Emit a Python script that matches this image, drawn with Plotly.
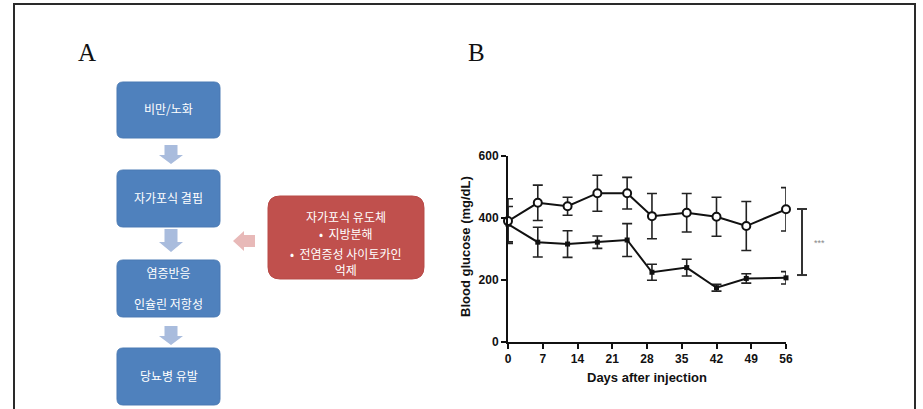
import plotly.graph_objects as go

# ---------------- data ----------------
days = [0, 6, 12, 18, 24, 29, 36, 42, 48, 56]
ctrl_glucose = [390, 449, 438, 480, 480, 406, 417, 404, 374, 428]
ctrl_sem = [72, 57, 29, 58, 51, 73, 62, 63, 79, 70]
treat_glucose = [380, 322, 316, 322, 329, 225, 240, 175, 205, 207]
treat_sem = [57, 48, 43, 20, 53, 26, 27, 11, 15, 20]
x_ticks = [0, 7, 14, 21, 28, 35, 42, 49, 56]
y_ticks = [0, 200, 400, 600]
sig_low, sig_high = 216, 429
sig_label = "***"

flow_boxes = ["비만/노화", "자가포식 결핍", "염증반응<br><br>인슐린 저항성", "당뇨병 유발"]
inducer_lines = ["자가포식 유도체", "•  지방분해", "•  전염증성 사이토카인<br>억제"]
panel_labels = ["A", "B"]

# ---------------- geometry helpers (pixels -> paper) ----------------
W, H = 923, 409


def px(x):
    return x / W


def py(y):
    return 1 - y / H


def path_from(points, close=True):
    s = ""
    for cmd, coords in points:
        s += cmd
        s += " ".join(f"{px(coords[i]):.5f},{py(coords[i+1]):.5f}" for i in range(0, len(coords), 2))
        s += " "
    if close:
        s += "Z"
    return s


def rrect(x0, y0, x1, y1, r):
    pts = [
        ("M", (x0 + r, y0)), ("L", (x1 - r, y0)), ("Q", (x1, y0, x1, y0 + r)),
        ("L", (x1, y1 - r)), ("Q", (x1, y1, x1 - r, y1)), ("L", (x0 + r, y1)),
        ("Q", (x0, y1, x0, y1 - r)), ("L", (x0, y0 + r)), ("Q", (x0, y0, x0 + r, y0)),
    ]
    return path_from(pts)


def down_arrow(cx, y0, yh, y1, sw, hw):
    pts = [("M", (cx - sw, y0)), ("L", (cx + sw, y0)), ("L", (cx + sw, yh)), ("L", (cx + hw, yh)),
           ("L", (cx, y1)), ("L", (cx - hw, yh)), ("L", (cx - sw, yh))]
    return path_from(pts)


def left_arrow(x0, xh, x1, cy, sh, hh):
    pts = [("M", (x0, cy)), ("L", (xh, cy - hh)), ("L", (xh, cy - sh)), ("L", (x1, cy - sh)),
           ("L", (x1, cy + sh)), ("L", (xh, cy + sh)), ("L", (xh, cy + hh))]
    return path_from(pts)


def note(text, x, y, font, xref="paper", yref="paper", **kw):
    d = dict(text=text, x=x, y=y, xref=xref, yref=yref, showarrow=False, font=font,
             xanchor="center", yanchor="middle")
    d.update(kw)
    return d


shapes = []
annotations = []

# outer frame
shapes.append(dict(type="rect", xref="paper", yref="paper", x0=px(14), x1=px(915), y0=py(4), y1=py(420),
                   line=dict(color="#2a2a2a", width=2), fillcolor="rgba(0,0,0,0)", layer="below"))

# panel letters
for lab, (lx, ly) in zip(panel_labels, [(87, 52), (476, 52)]):
    annotations.append(note(lab, px(lx), py(ly), dict(family="Liberation Serif", size=25, color="#111")))

# flow chart boxes
BLUE = "#4F81BD"
box_rows = [(82, 138), (170, 227), (260, 317), (348, 405)]
for label, (y0, y1) in zip(flow_boxes, box_rows):
    shapes.append(dict(type="path", xref="paper", yref="paper", path=rrect(117, y0, 220, y1, 6),
                       fillcolor=BLUE, line=dict(color="#4A7AB4", width=1)))
    annotations.append(note(label, px(168.5), py((y0 + y1) / 2 - 1),
                            dict(family="Noto Sans CJK KR", size=12, color="white"), align="center"))

# down arrows
for (y0, yh, y1) in [(145, 155, 164), (229, 242, 252), (326, 336, 345)]:
    shapes.append(dict(type="path", xref="paper", yref="paper", path=down_arrow(171, y0, yh, y1, 6.5, 12),
                       fillcolor="#A9BCDD", line=dict(width=0)))

# red inducer box
shapes.append(dict(type="path", xref="paper", yref="paper", path=rrect(268, 196, 424, 279, 12),
                   fillcolor="#C0504D", line=dict(color="#B84A47", width=1)))
for line_text, ly in zip(inducer_lines, [217, 233, 261]):
    annotations.append(note(line_text, px(346), py(ly),
                            dict(family="Noto Sans CJK KR", size=12, color="white"), align="center"))

# pink left arrow
shapes.append(dict(type="path", xref="paper", yref="paper", path=left_arrow(233, 244, 255, 241, 6, 10),
                   fillcolor="#E8B9B8", line=dict(width=0)))

# ---------------- chart ----------------
fig = go.Figure()

fig.add_trace(go.Scatter(
    x=days, y=treat_glucose, mode="lines+markers", name="treated",
    line=dict(color="#111", width=2),
    marker=dict(symbol="square", size=5, color="#111"),
    error_y=dict(type="data", array=treat_sem, visible=True, color="#222", thickness=1.6, width=5),
    cliponaxis=False, showlegend=False))

fig.add_trace(go.Scatter(
    x=days, y=ctrl_glucose, mode="lines+markers", name="control",
    line=dict(color="#111", width=2),
    marker=dict(symbol="circle", size=8, color="white", line=dict(color="#111", width=2)),
    error_y=dict(type="data", array=ctrl_sem, visible=True, color="#222", thickness=1.6, width=5),
    cliponaxis=False, showlegend=False))

# significance bracket (paper x, data y)
bx = px(802)
cap = 5 / W
shapes.append(dict(type="line", xref="paper", yref="y", x0=bx, x1=bx, y0=sig_low, y1=sig_high,
                   line=dict(color="#333", width=2)))
for yv in (sig_low, sig_high):
    shapes.append(dict(type="line", xref="paper", yref="y", x0=bx - cap, x1=bx + cap, y0=yv, y1=yv,
                       line=dict(color="#333", width=2)))
annotations.append(note(sig_label, px(819), (sig_low + sig_high) / 2 - 2,
                        dict(family="Liberation Sans", size=9, color="#888"), yref="y"))

# axis titles
annotations.append(note("<b>Blood glucose (mg/dL)</b>", px(466), py(247),
                        dict(family="Liberation Sans", size=13, color="#111"), textangle=-90))
annotations.append(note("<b>Days after injection</b>", px(647), py(377),
                        dict(family="Liberation Sans", size=13, color="#111")))

tickfont = dict(family="Liberation Sans", size=12, color="#111", weight="bold")

fig.update_layout(
    width=W, height=H,
    margin=dict(l=0, r=0, t=0, b=0),
    paper_bgcolor="white", plot_bgcolor="rgba(0,0,0,0)",
    xaxis=dict(domain=[px(508), px(786)], range=[0, 56], tickvals=x_ticks, ticks="outside", ticklen=5,
               tickwidth=2, tickcolor="#111", showline=True, linecolor="#111", linewidth=2,
               showgrid=False, zeroline=False, tickfont=tickfont, automargin=False, fixedrange=True),
    yaxis=dict(domain=[py(342), py(156)], range=[0, 600], tickvals=y_ticks, ticks="outside", ticklen=5,
               tickwidth=2, tickcolor="#111", showline=True, linecolor="#111", linewidth=2,
               showgrid=False, zeroline=False, tickfont=tickfont, automargin=False, fixedrange=True),
    shapes=shapes,
    annotations=annotations,
)

fig.write_html("out.html", config={"displayModeBar": False},
               post_script="document.body.style.margin='0';document.body.style.overflow='hidden';")
